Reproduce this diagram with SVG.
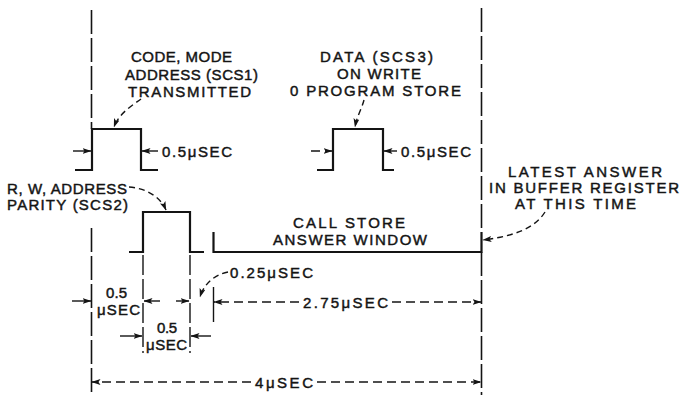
<svg xmlns="http://www.w3.org/2000/svg" width="681" height="395" viewBox="0 0 681 395">
<defs>
<style>
.t{font-family:"Liberation Sans",Arial,sans-serif;font-size:15px;fill:#141414;stroke:#141414;stroke-width:0.45px;}
.guide{fill:none;stroke:#141414;stroke-width:1.6;stroke-dasharray:24 4;}
.ext{fill:none;stroke:#141414;stroke-width:1.4;stroke-dasharray:20 4;}
.pulse{fill:none;stroke:#141414;stroke-width:2.2;stroke-linejoin:miter;}
.dim{fill:none;stroke:#141414;stroke-width:1.4;marker-end:url(#ah);}
.dimd{fill:none;stroke:#141414;stroke-width:1.4;stroke-dasharray:9 5;marker-end:url(#ah);}
.lead{fill:none;stroke:#141414;stroke-width:1.4;stroke-dasharray:6 4;marker-end:url(#ah);}
</style>
<marker id="ah" viewBox="0 0 9 6" refX="8.5" refY="3" markerWidth="9" markerHeight="6" markerUnits="userSpaceOnUse" orient="auto">
<path d="M0,0 L9,3 L0,6 L2,3 Z" fill="#141414"/>
</marker>
</defs>
<rect width="681" height="395" fill="#fff"/>

<g id="guides">
<line class="guide" x1="91.5" y1="10" x2="91.5" y2="129"/>
<line class="guide" x1="91.5" y1="228" x2="91.5" y2="395"/>
<line class="guide" x1="481.5" y1="8" x2="481.5" y2="232"/>
<line class="guide" x1="481.5" y1="252" x2="481.5" y2="395"/>
<line class="ext" x1="143" y1="255" x2="143" y2="353"/>
<line class="ext" x1="190" y1="255" x2="190" y2="353"/>
<line class="pulse" style="stroke-width:1.4" x1="213.5" y1="287" x2="213.5" y2="322"/>
</g>

<g id="pulse-scs1">
<polyline class="pulse" points="75,170 92,170 92,129 141,129 141,170 158,170"/>
<text class="t" x="131" y="62" textLength="101" lengthAdjust="spacing">CODE, MODE</text>
<text class="t" x="125" y="80" textLength="133" lengthAdjust="spacing">ADDRESS (SCS1)</text>
<text class="t" x="128" y="97" textLength="123" lengthAdjust="spacing">TRANSMITTED</text>
<text class="t" x="162" y="157" textLength="70" lengthAdjust="spacing">0.5μSEC</text>
</g>

<g id="pulse-scs2">
<polyline class="pulse" points="129,252 143,252 143,212 190,212 190,252 204,252"/>
<text class="t" x="7" y="194" textLength="120" lengthAdjust="spacing">R, W, ADDRESS</text>
<text class="t" x="7" y="210" textLength="121" lengthAdjust="spacing">PARITY (SCS2)</text>
</g>

<g id="pulse-scs3">
<polyline class="pulse" points="317,170 333,170 333,129 383,129 383,170 394,170"/>
<text class="t" x="320" y="62" textLength="113" lengthAdjust="spacing">DATA (SCS3)</text>
<text class="t" x="337" y="79" textLength="84" lengthAdjust="spacing">ON WRITE</text>
<text class="t" x="290" y="96" textLength="171" lengthAdjust="spacing">0 PROGRAM STORE</text>
<text class="t" x="401" y="157" textLength="70" lengthAdjust="spacing">0.5μSEC</text>
</g>

<g id="answer-window">
<polyline class="pulse" points="213.5,232 213.5,252 481.5,252 481.5,232"/>
<text class="t" x="293" y="228" textLength="112" lengthAdjust="spacing">CALL STORE</text>
<text class="t" x="273" y="245" textLength="154" lengthAdjust="spacing">ANSWER WINDOW</text>
</g>

<g id="latest-answer">
<text class="t" x="508" y="177" textLength="154" lengthAdjust="spacing">LATEST ANSWER</text>
<text class="t" x="489" y="193" textLength="190" lengthAdjust="spacing">IN BUFFER REGISTER</text>
<text class="t" x="515" y="209" textLength="121" lengthAdjust="spacing">AT THIS TIME</text>
</g>

<g id="connectors">
<path class="lead" d="M141,99 C133,105 119,113 114,127"/>
<path class="lead" d="M364,100 C362,108 357,116 355,127"/>
<path class="lead" d="M129,187 C145,188 160,196 166,210"/>
<path class="lead" d="M228,272 C214,275 204,284 200,297"/>
<path class="lead" d="M545,212 C535,228 515,236 483,240"/>
</g>

<g id="dimensions">
<line class="dim" x1="73" y1="151" x2="91" y2="151"/>
<line class="dim" x1="158" y1="151" x2="142" y2="151"/>
<line class="dimd" x1="311" y1="151" x2="332" y2="151"/>
<line class="dim" x1="397" y1="151" x2="384" y2="151"/>
<line class="dim" x1="72" y1="301" x2="91" y2="301"/>
<line class="dim" x1="160" y1="301" x2="144" y2="301"/>
<text class="t" x="106" y="298" textLength="21" lengthAdjust="spacing">0.5</text>
<text class="t" x="97" y="315" textLength="43" lengthAdjust="spacing">μSEC</text>
<line class="dim" x1="120" y1="336" x2="142" y2="336"/>
<line class="dim" x1="211" y1="336" x2="191" y2="336"/>
<text class="t" x="157" y="333" textLength="20" lengthAdjust="spacing">0.5</text>
<text class="t" x="146" y="350" textLength="41" lengthAdjust="spacing">μSEC</text>
<line class="dim" x1="176" y1="301" x2="189" y2="301"/>
<text class="t" x="230" y="278" textLength="83" lengthAdjust="spacing">0.25μSEC</text>
<line class="dimd" x1="299" y1="302" x2="214" y2="302"/>
<line class="dimd" x1="392" y1="302" x2="481" y2="302"/>
<text class="t" x="303" y="308" textLength="85" lengthAdjust="spacing">2.75μSEC</text>
<line class="dimd" x1="251" y1="382" x2="92" y2="382"/>
<line class="dimd" x1="317" y1="382" x2="481" y2="382"/>
<text class="t" x="255" y="388" textLength="58" lengthAdjust="spacing">4μSEC</text>
</g>
</svg>
